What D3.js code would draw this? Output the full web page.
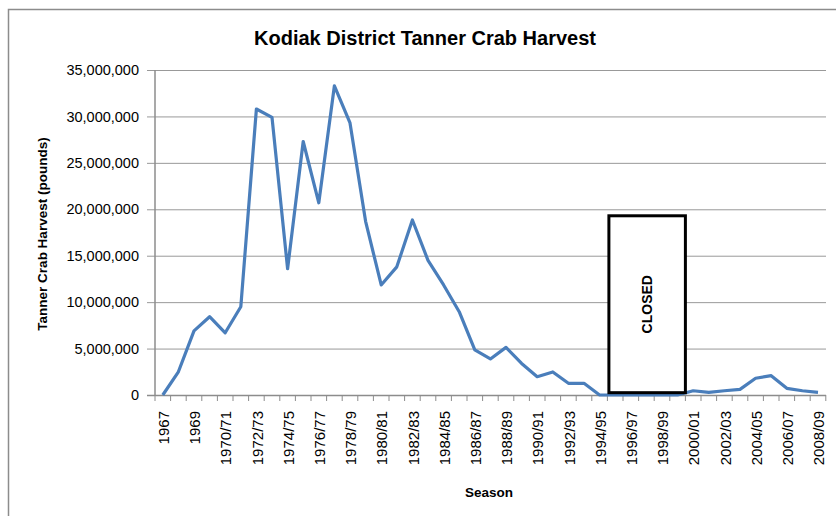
<!DOCTYPE html>
<html>
<head>
<meta charset="utf-8">
<script src="https://cdn.jsdelivr.net/npm/d3@7"></script>
<style>
  body { margin: 0; background: #fff; }
  text { font-family: "Liberation Sans", Arial, sans-serif; }
</style>
</head>
<body>
<script>
const seasons = ["1967", "1968", "1969", "1969/70", "1970/71", "1971/72", "1972/73", "1973/74",
  "1974/75", "1975/76", "1976/77", "1977/78", "1978/79", "1979/80", "1980/81", "1981/82",
  "1982/83", "1983/84", "1984/85", "1985/86", "1986/87", "1987/88", "1988/89", "1989/90",
  "1990/91", "1991/92", "1992/93", "1993/94", "1994/95", "1995/96", "1996/97", "1997/98",
  "1998/99", "1999/00", "2000/01", "2001/02", "2002/03", "2003/04", "2004/05", "2005/06",
  "2006/07", "2007/08", "2008/09"];

const harvest = [0, 2500000, 6900000, 8430000, 6700000, 9500000, 30800000, 29900000,
  13600000, 27300000, 20700000, 33300000, 29300000, 18700000, 11850000, 13800000,
  18850000, 14500000, 11850000, 8970000, 4850000, 3880000, 5130000, 3400000,
  1970000, 2480000, 1260000, 1260000, 0, 0, 0, 0,
  0, 0, 460000, 290000, 460000, 610000, 1800000, 2080000,
  720000, 460000, 290000];

const yTicks = [0, 5000000, 10000000, 15000000, 20000000, 25000000, 30000000, 35000000];

// closed period annotation
const closedFrom = "1995/96";
const closedTo = "1999/00";
const closedTop = 19300000;
const closedBottom = 250000;

const width = 836, height = 516;
const margin = { top: 70, right: 10, bottom: 121, left: 155 };

const svg = d3.select("body")
  .append("svg")
  .attr("width", width)
  .attr("height", height);

// outer frame
svg.append("path")
  .attr("d", `M8.5,${height} V9.5 H${width}`)
  .attr("fill", "none")
  .attr("stroke", "#8c8c8c")
  .attr("stroke-width", 1.5);

const x = d3.scaleBand()
  .domain(seasons)
  .range([margin.left, 825.8])
  .paddingInner(0)
  .paddingOuter(0);

const y = d3.scaleLinear()
  .domain([0, 35000000])
  .range([395, 70]);

// gridlines + y axis
const yAxis = svg.append("g")
  .attr("transform", `translate(${margin.left},0)`)
  .call(d3.axisLeft(y).tickValues(yTicks).tickFormat(d3.format(",")).tickSize(8).tickPadding(8));
yAxis.select(".domain").remove();
yAxis.selectAll(".tick line")
  .attr("stroke", "#999")
  .attr("x2", 826 - margin.left)
  .attr("x1", -8);
yAxis.selectAll(".tick line")
  .filter(d => d === 0)
  .remove();
yAxis.selectAll(".tick text")
  .attr("font-size", 14.5)
  .attr("fill", "#000");

// y axis line
svg.append("line")
  .attr("x1", margin.left).attr("x2", margin.left)
  .attr("y1", 70).attr("y2", 395)
  .attr("stroke", "#8c8c8c").attr("stroke-width", 1.5);

// x axis line and ticks
svg.append("line")
  .attr("x1", margin.left - 8).attr("x2", 826)
  .attr("y1", 395.5).attr("y2", 395.5)
  .attr("stroke", "#8c8c8c").attr("stroke-width", 1.5);

const bounds = seasons.map(s => x(s)).concat([x(seasons[seasons.length - 1]) + x.bandwidth()]);
svg.append("g")
  .selectAll("line")
  .data(bounds)
  .enter()
  .append("line")
  .attr("x1", d => d).attr("x2", d => d)
  .attr("y1", 395).attr("y2", 401)
  .attr("stroke", "#8c8c8c");

svg.append("g")
  .selectAll("text")
  .data(seasons.filter((s, i) => i % 2 === 0))
  .enter()
  .append("text")
  .attr("transform", d => `translate(${x(d) + x.bandwidth() / 2 + 1},411) rotate(-90)`)
  .attr("text-anchor", "end")
  .attr("dy", "0.35em")
  .attr("font-size", 15)
  .text(d => d);

// harvest line
const line = d3.line()
  .x((d, i) => x(seasons[i]) + x.bandwidth() / 2)
  .y(d => y(d));

svg.append("path")
  .datum(harvest)
  .attr("d", line)
  .attr("fill", "none")
  .attr("stroke", "#4a7ebb")
  .attr("stroke-width", 3.2)
  .attr("stroke-linejoin", "round");

// CLOSED box
const bx0 = x(closedFrom) + 1.5;
const bx1 = x(closedTo) + x.bandwidth();
svg.append("rect")
  .attr("x", bx0)
  .attr("y", y(closedTop))
  .attr("width", bx1 - bx0)
  .attr("height", y(closedBottom) - y(closedTop))
  .attr("fill", "#fff")
  .attr("stroke", "#000")
  .attr("stroke-width", 3);

svg.append("text")
  .attr("transform", `translate(${(bx0 + bx1) / 2},${(y(closedTop) + y(closedBottom)) / 2}) rotate(-90)`)
  .attr("text-anchor", "middle")
  .attr("dy", "0.35em")
  .attr("font-size", 14)
  .attr("font-weight", "bold")
  .text("CLOSED");

// titles
svg.append("text")
  .attr("x", 425)
  .attr("y", 45)
  .attr("text-anchor", "middle")
  .attr("font-size", 20)
  .attr("font-weight", "bold")
  .text("Kodiak District Tanner Crab Harvest");

svg.append("text")
  .attr("transform", "translate(47,234) rotate(-90)")
  .attr("text-anchor", "middle")
  .attr("font-size", 13.5)
  .attr("font-weight", "bold")
  .text("Tanner Crab Harvest  (pounds)");

svg.append("text")
  .attr("x", 489)
  .attr("y", 497)
  .attr("text-anchor", "middle")
  .attr("font-size", 13.5)
  .attr("font-weight", "bold")
  .text("Season");
</script>
</body>
</html>
